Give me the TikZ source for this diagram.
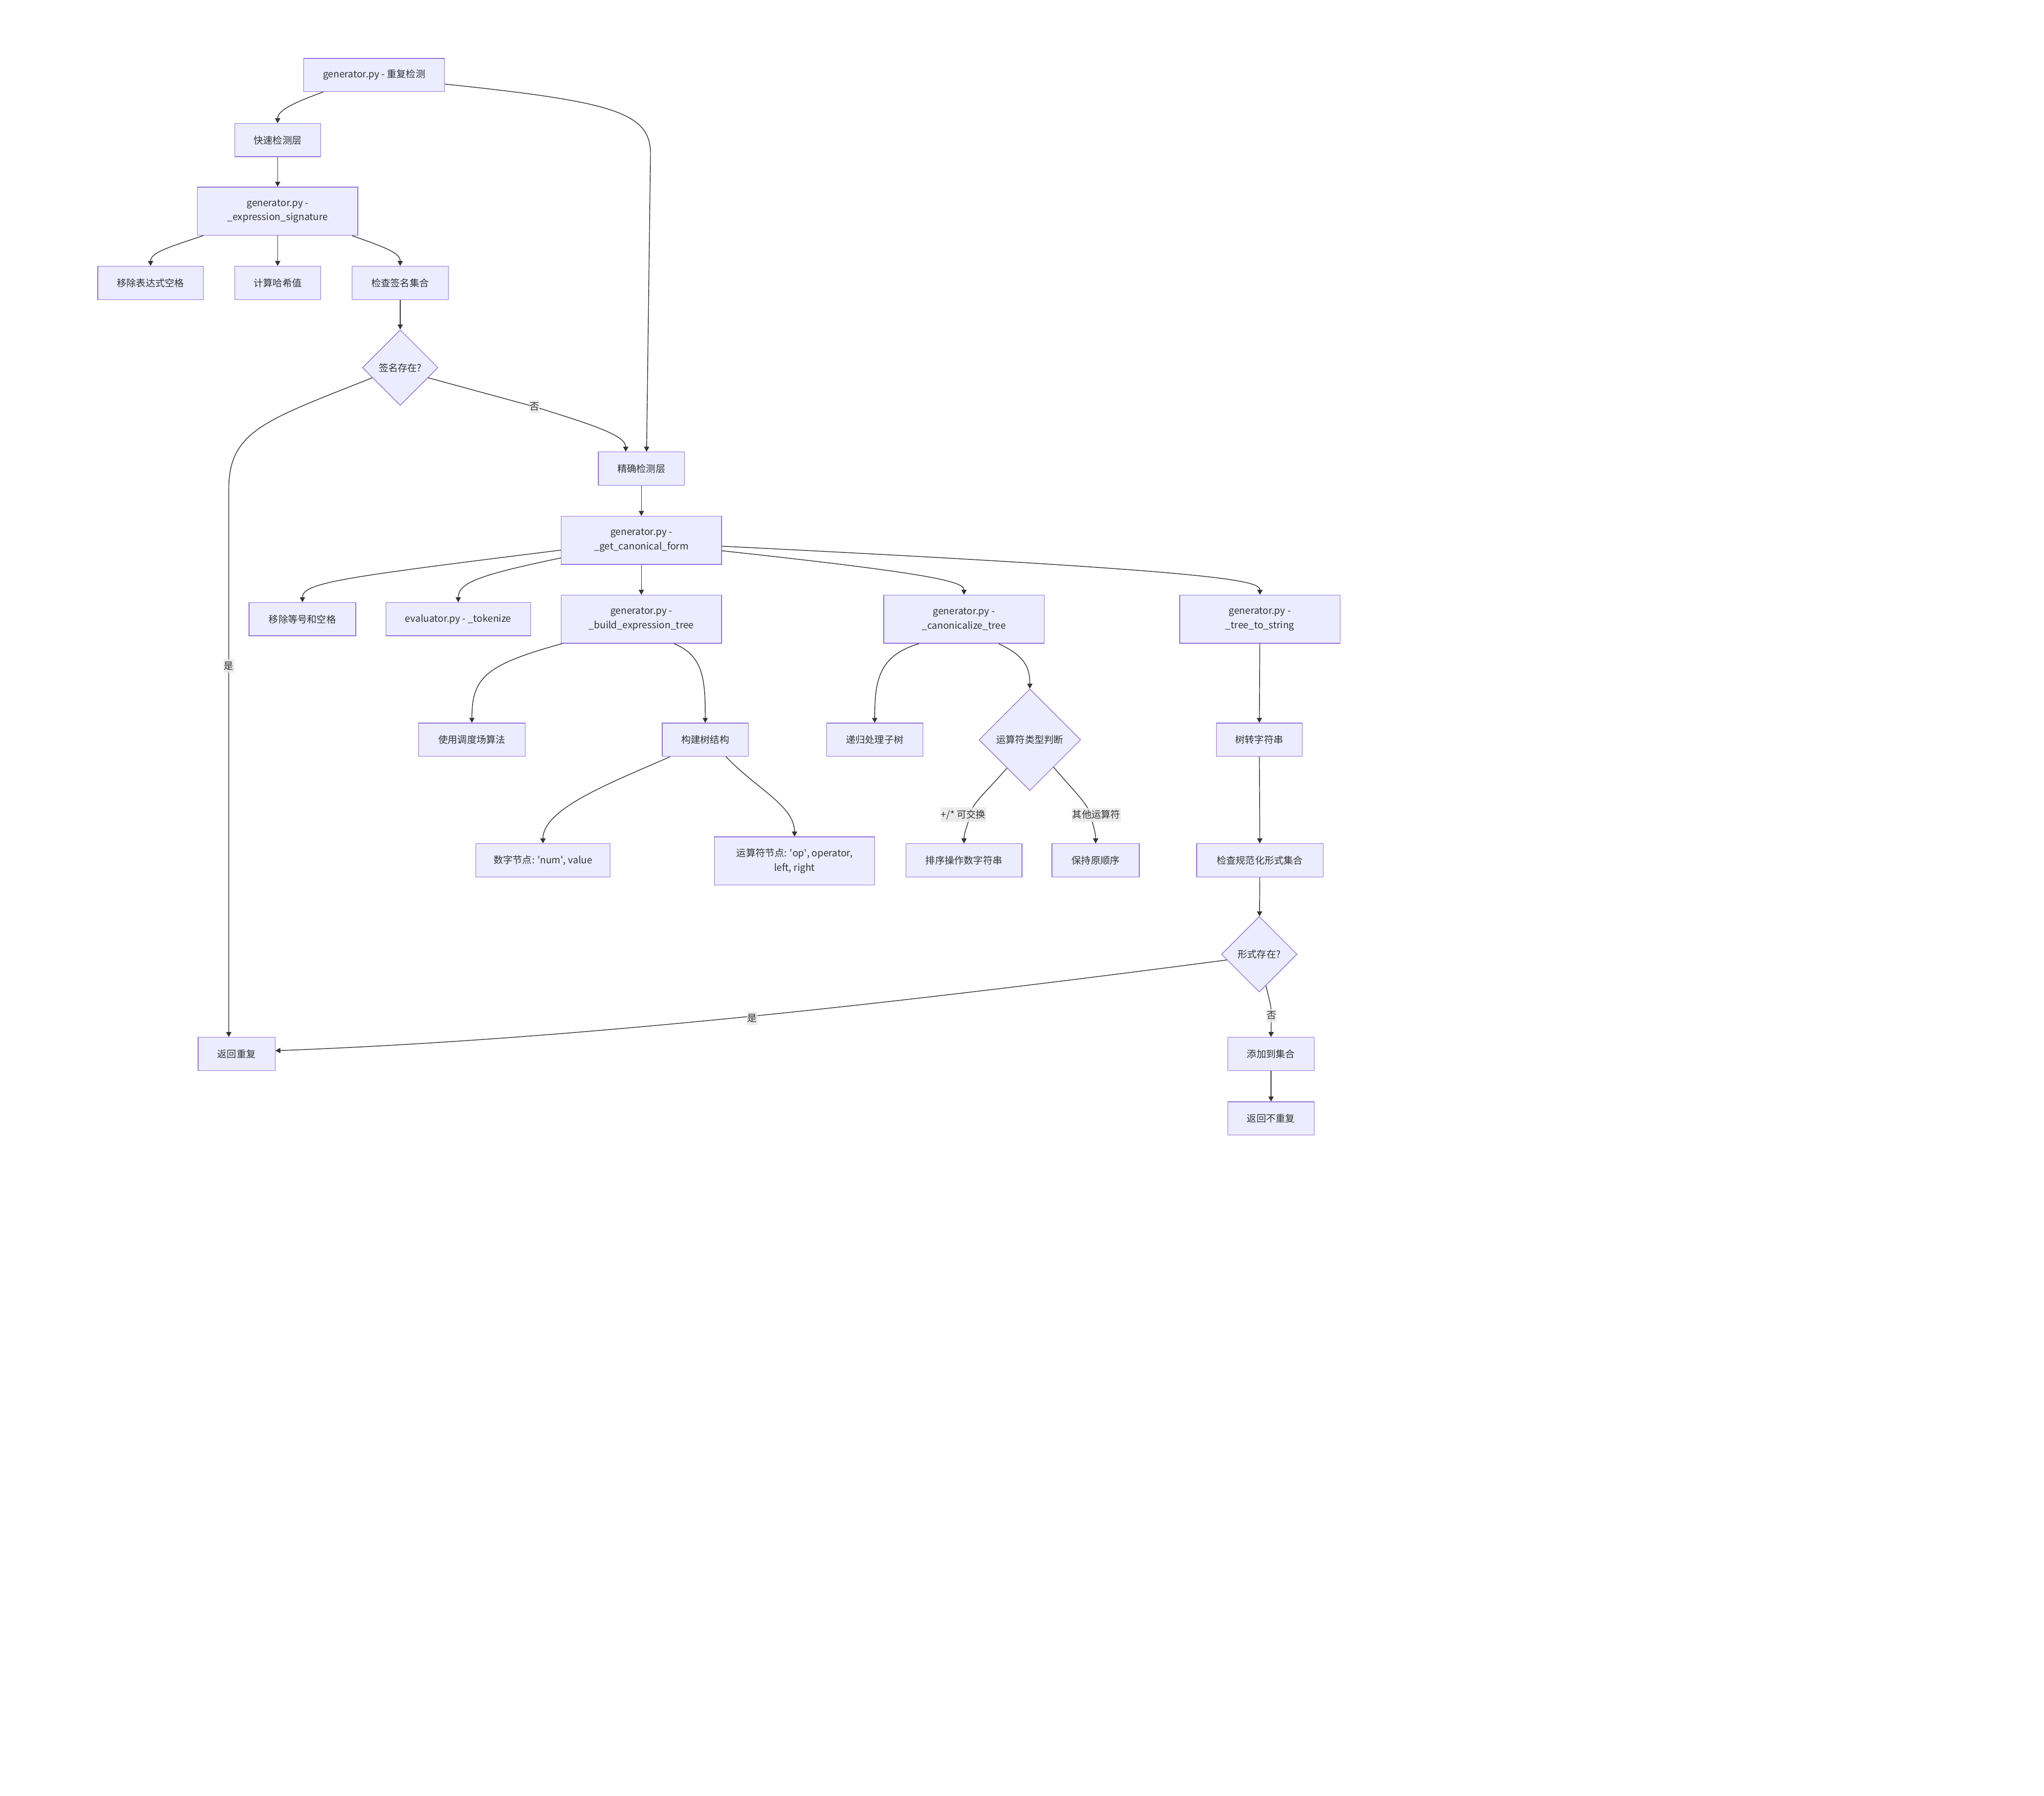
\documentclass[tikz,border=0pt]{standalone}
\usepackage{fontspec}
\newfontfamily\cjk{Noto Sans CJK SC}
\usetikzlibrary{shapes.geometric,arrows.meta}
\definecolor{nodefill}{HTML}{ECECFF}
\definecolor{nodeline}{HTML}{9370DB}
\definecolor{flowline}{HTML}{333333}
\definecolor{lblfill}{HTML}{E8E8E8}
\begin{document}
\begin{tikzpicture}[x=1pt, y=-1pt,
  box/.style={draw=nodeline, fill=nodefill, line width=0.5pt, text=flowline,
    font=\cjk\fontsize{7.35pt}{11pt}\selectfont, align=center,
    minimum height=25.5pt, inner xsep=3pt, inner ysep=2pt},
  tall/.style={box, minimum height=37pt},
  dia/.style={box, shape=diamond, aspect=1, inner sep=0pt},
  lbl/.style={fill=lblfill, fill opacity=0.85, text opacity=1, text=flowline,
    font=\cjk\fontsize{7.35pt}{11pt}\selectfont, inner xsep=0.3pt, inner ysep=1.9pt},
  flow/.style={draw=flowline, line width=0.55pt, -{Triangle[length=3.8pt,width=4pt]}}]
  \path[use as bounding box, fill=white] (0,0) rectangle (1568,1377.5);

  % quick check layer
  \node[box, minimum width=108pt] (gen) at (287,57.5) {generator.py - 重复检测};
  \node[box, minimum width=66pt] (fast) at (213,107.5) {快速检测层};
  \node[tall, minimum width=123pt] (sig) at (213,162) {generator.py -\\\_expression\_signature};
  \node[box, minimum width=81pt] (rmsp) at (115.5,217) {移除表达式空格};
  \node[box, minimum width=66pt] (hash) at (213,217) {计算哈希值};
  \node[box, minimum width=74pt] (chksig) at (307,217) {检查签名集合};
  \node[dia, minimum width=58pt, minimum height=58pt] (sigq) at (307,282) {签名存在?};

  % precise check layer
  \node[box, minimum width=66pt] (exact) at (492,359.5) {精确检测层};
  \node[tall, minimum width=123pt] (canon) at (492,414.5) {generator.py -\\\_get\_canonical\_form};
  \node[box, minimum width=82pt] (rmeq) at (232,475) {移除等号和空格};
  \node[box, minimum width=111pt] (tok) at (351.5,475) {evaluator.py - \_tokenize};
  \node[tall, minimum width=123pt] (build) at (492,475) {generator.py -\\\_build\_expression\_tree};
  \node[tall, minimum width=123pt] (canotree) at (739.5,475) {generator.py -\\\_canonicalize\_tree};
  \node[tall, minimum width=123pt] (tostr) at (966.5,475) {generator.py -\\\_tree\_to\_string};

  % tree level
  \node[box, minimum width=82pt] (shunt) at (362,567.5) {使用调度场算法};
  \node[box, minimum width=66pt] (mktree) at (541,567.5) {构建树结构};
  \node[box, minimum width=74pt] (recur) at (671,567.5) {递归处理子树};
  \node[dia, minimum width=78pt, minimum height=78pt] (optype) at (790,567.5) {运算符类型判断};
  \node[box, minimum width=66pt] (tree2s) at (966,567.5) {树转字符串};
  \node[box, minimum width=103pt] (numnode) at (416.5,660) {数字节点: \textquotesingle num\textquotesingle, value};
  \node[tall, minimum width=123pt] (opnode) at (609.5,660.5) {运算符节点: \textquotesingle op\textquotesingle, operator,\\left, right};
  \node[box, minimum width=89pt] (sortops) at (739.5,660) {排序操作数字符串};
  \node[box, minimum width=67pt] (keep) at (840.5,660) {保持原顺序};
  \node[box, minimum width=97pt] (chkform) at (966.5,660) {检查规范化形式集合};
  \node[dia, minimum width=58pt, minimum height=58pt] (formq) at (966,732) {形式存在?};

  % results
  \node[box, minimum width=59pt] (retdup) at (181.5,808.5) {返回重复};
  \node[box, minimum width=66pt] (addset) at (975,808.5) {添加到集合};
  \node[box, minimum width=66pt] (retuniq) at (975,858) {返回不重复};

  % label points
  \coordinate (cNo1) at (410,312);
  \coordinate (cYes1) at (175.5,511);
  \coordinate (cComm) at (744,625);
  \coordinate (cOther) at (836.5,625);
  \coordinate (cNo2) at (975.3,779);

  % connectors, top part
  \draw[flow] ([xshift=-39pt]gen.south) .. controls (228,78) and (213,84) .. (fast.north);
  \draw[flow] ([yshift=-7pt]gen.east) .. controls (470,78) and (499,86) .. (499,118) -- ([xshift=4pt]exact.north);
  \draw[flow] (fast) -- (sig);
  \draw[flow] ([xshift=-57pt]sig.south) .. controls (128,190) and (115.5,194) .. (rmsp.north);
  \draw[flow] (sig) -- (hash);
  \draw[flow] ([xshift=57pt]sig.south) .. controls (296,190) and (307,194) .. (chksig.north);
  \draw[flow] (chksig) -- (sigq);
  \draw[flow] (sigq.-20) -- (cNo1) .. controls (455,326) and (480,334) .. ([xshift=-12pt]exact.north);
  \draw[flow] (sigq.200) .. controls (205,322) and (175.5,330) .. (175.5,375) -- (cYes1) -- ([xshift=-6pt]retdup.north);

  % connectors, canonical form
  \draw[flow] (exact) -- (canon);
  \draw[flow] ([yshift=-7.5pt]canon.west) .. controls (262,443) and (232,447) .. (rmeq.north);
  \draw[flow] ([yshift=-13.5pt]canon.west) .. controls (368,441) and (351.5,447) .. (tok.north);
  \draw[flow] (canon) -- (build);
  \draw[flow] ([yshift=-8pt]canon.east) .. controls (715,440) and (739.5,446) .. (canotree.north);
  \draw[flow] ([yshift=-4.5pt]canon.east) .. controls (935,438) and (966.5,445) .. (tostr.north);

  % connectors, tree
  \draw[flow] ([xshift=1pt]build.south west) .. controls (372,510) and (362,520) .. (shunt.north);
  \draw[flow] ([xshift=25pt]build.south) .. controls (540,503) and (541,522) .. (mktree.north);
  \draw[flow] ([xshift=-34.5pt]canotree.south) .. controls (674,503) and (671,522) .. (recur.north);
  \draw[flow] ([xshift=26.5pt]canotree.south) .. controls (786,503) and (790,512) .. (optype.north);
  \draw[flow] (tostr) -- (tree2s);
  \draw[flow] ([xshift=-27pt]mktree.south) .. controls (470,600) and (416.5,620) .. (numnode.north);
  \draw[flow] ([xshift=16pt]mktree.south) .. controls (580,605) and (609.5,618) .. (opnode.north);
  \draw[flow] (optype.231) .. controls (758,606) and (745,617) .. (cComm) .. controls (743,632) and (739.5,638) .. (sortops.north);
  \draw[flow] (optype.-49) .. controls (822,605) and (835,617) .. (cOther) .. controls (838,632) and (840.5,638) .. (keep.north);
  \draw[flow] (tree2s) -- (chkform);
  \draw[flow] (chkform) -- (formq);
  \draw[flow] (formq.190) .. controls (700,768) and (450,797) .. ([yshift=2.5pt]retdup.east);
  \draw[flow] (formq.-78) .. controls (974,768) and (975.3,772) .. (cNo2) -- (addset.north);
  \draw[flow] (addset) -- (retuniq);

  % edge labels
  \node[lbl] (lNo1) at (cNo1) {否};
  \node[lbl] (lYes1) at (cYes1) {是};
  \node[lbl] (lComm) at (739,625) {+/* 可交换};
  \node[lbl] (lOther) at (841,625) {其他运算符};
  \node[lbl] (lYes2) at (577,781) {是};
  \node[lbl] (lNo2) at (cNo2) {否};
\end{tikzpicture}
\end{document}
